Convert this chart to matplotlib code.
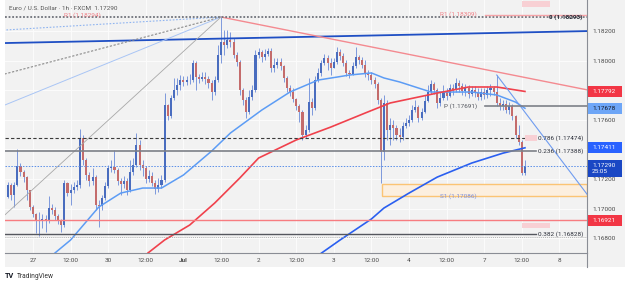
import numpy as np
import matplotlib.pyplot as plt
from matplotlib.patches import Rectangle
from matplotlib.transforms import blended_transform_factory

plt.rcParams['font.family'] = ['Roboto', 'DejaVu Sans']

# EUR/USD 1h bars, hour index 0 = 27 Jun 00:00 (weekend hours skipped)
first_open = 1.17078
closes = [
    1.17159, 1.17092, 1.17159, 1.17288, 1.17247, 1.17213, 1.17126, 1.17011,
    1.16963, 1.16916, 1.16923, 1.16930, 1.16916, 1.17004, 1.16990, 1.16950,
    1.16916, 1.16889, 1.17173, 1.17105, 1.17126, 1.17146, 1.17159, 1.17477,
    1.17328, 1.17227, 1.17186, 1.17213, 1.17024, 1.17017, 1.17072, 1.17153,
    1.17274, 1.17281, 1.17261, 1.17186, 1.17166, 1.17186, 1.17126, 1.17247,
    1.17295, 1.17430, 1.17295, 1.17274, 1.17200, 1.17220, 1.17173, 1.17132,
    1.17159, 1.17193, 1.17700, 1.17626, 1.17748, 1.17802, 1.17835, 1.17869,
    1.17856, 1.17869, 1.17869, 1.17984, 1.17889, 1.17876, 1.17889, 1.17876,
    1.17849, 1.17788, 1.17869, 1.18038, 1.18126, 1.18106, 1.18140, 1.18126,
    1.18038, 1.17991, 1.17802, 1.17734, 1.17653, 1.17754, 1.17802, 1.18038,
    1.18058, 1.18025, 1.18045, 1.18065, 1.17950, 1.17971, 1.17991, 1.17964,
    1.17883, 1.17815, 1.17788, 1.17741, 1.17693, 1.17653, 1.17497, 1.17531,
    1.17720, 1.17680, 1.17869, 1.17917, 1.17984, 1.18018, 1.17984, 1.17950,
    1.17991, 1.18058, 1.18031, 1.17984, 1.17917, 1.17910, 1.17964, 1.18025,
    1.18004, 1.17971, 1.17917, 1.17903, 1.17869, 1.17842, 1.17734, 1.17382,
    1.17714, 1.17531, 1.17565, 1.17545, 1.17497, 1.17484, 1.17558, 1.17579,
    1.17599, 1.17666, 1.17687, 1.17612, 1.17653, 1.17727, 1.17788, 1.17842,
    1.17802, 1.17714, 1.17748, 1.17788, 1.17761, 1.17815, 1.17802, 1.17849,
    1.17829, 1.17795, 1.17815, 1.17775, 1.17802, 1.17781, 1.17754, 1.17788,
    1.17768, 1.17802, 1.17815, 1.17788, 1.17714, 1.17693, 1.17707, 1.17666,
    1.17693, 1.17626, 1.17497, 1.17450, 1.17241, 1.17290,
]
highs = [
    1.17180, 1.17173, 1.17180, 1.17403, 1.17308, 1.17261, 1.17220, 1.17126,
    1.17024, 1.16970, 1.16977, 1.16963, 1.16957, 1.17085, 1.17031, 1.17011,
    1.16963, 1.16930, 1.17193, 1.17180, 1.17166, 1.17180, 1.17193, 1.17538,
    1.17497, 1.17342, 1.17247, 1.17274, 1.17227, 1.17058, 1.17092, 1.17180,
    1.17295, 1.17328, 1.17396, 1.17274, 1.17207, 1.17220, 1.17207, 1.17328,
    1.17342, 1.17511, 1.17464, 1.17328, 1.17288, 1.17261, 1.17247, 1.17193,
    1.17207, 1.17227, 1.17781, 1.17707, 1.17768, 1.17883, 1.17883, 1.17903,
    1.17896, 1.17896, 1.17910, 1.18004, 1.17998, 1.17910, 1.17923, 1.17923,
    1.17896, 1.17869, 1.17896, 1.18106, 1.18295, 1.18207, 1.18207, 1.18194,
    1.18153, 1.18058, 1.18004, 1.17815, 1.17754, 1.17802, 1.17835, 1.18072,
    1.18086, 1.18072, 1.18079, 1.18086, 1.18086, 1.18018, 1.18018, 1.18018,
    1.17971, 1.17896, 1.17835, 1.17815, 1.17748, 1.17707, 1.17666, 1.17565,
    1.17883, 1.17748, 1.17896, 1.17950, 1.18004, 1.18045, 1.18038, 1.18018,
    1.18018, 1.18092, 1.18079, 1.18052, 1.18004, 1.17937, 1.17991, 1.18092,
    1.18038, 1.18025, 1.18004, 1.17937, 1.17923, 1.17889, 1.17856, 1.17748,
    1.17768, 1.17734, 1.17612, 1.17599, 1.17565, 1.17545, 1.17585, 1.17612,
    1.17633, 1.17700, 1.17734, 1.17700, 1.17680, 1.17768, 1.17835, 1.17869,
    1.17856, 1.17815, 1.17788, 1.17835, 1.17815, 1.17842, 1.17842, 1.17883,
    1.17869, 1.17849, 1.17842, 1.17835, 1.17829, 1.17829, 1.17815, 1.17815,
    1.17815, 1.17829, 1.17842, 1.17829, 1.17903, 1.17748, 1.17734, 1.17734,
    1.17720, 1.17707, 1.17633, 1.17565, 1.17464, 1.17328,
]
lows = [
    1.17072, 1.17058, 1.17011, 1.17153, 1.17220, 1.17180, 1.17058, 1.16990,
    1.16943, 1.16835, 1.16815, 1.16869, 1.16842, 1.16903, 1.16963, 1.16923,
    1.16896, 1.16842, 1.16875, 1.17085, 1.17024, 1.17105, 1.17126, 1.17139,
    1.17295, 1.17193, 1.17153, 1.17159, 1.16990, 1.16875, 1.16990, 1.17058,
    1.17139, 1.17247, 1.17241, 1.17159, 1.17092, 1.17139, 1.17092, 1.17112,
    1.17227, 1.17281, 1.17261, 1.17220, 1.17173, 1.17180, 1.17153, 1.17099,
    1.17112, 1.17139, 1.17180, 1.17599, 1.17612, 1.17734, 1.17768, 1.17802,
    1.17829, 1.17835, 1.17842, 1.17856, 1.17802, 1.17849, 1.17862, 1.17842,
    1.17815, 1.17734, 1.17768, 1.17856, 1.17984, 1.18038, 1.18086, 1.18092,
    1.18018, 1.17964, 1.17768, 1.17700, 1.17612, 1.17639, 1.17734, 1.17788,
    1.18018, 1.17991, 1.18004, 1.18031, 1.17923, 1.17923, 1.17950, 1.17937,
    1.17856, 1.17788, 1.17761, 1.17720, 1.17666, 1.17585, 1.17464, 1.17477,
    1.17518, 1.17633, 1.17666, 1.17856, 1.17896, 1.17971, 1.17937, 1.17903,
    1.17950, 1.17977, 1.18004, 1.17964, 1.17896, 1.17883, 1.17903, 1.17950,
    1.17977, 1.17950, 1.17889, 1.17869, 1.17842, 1.17815, 1.17707, 1.17173,
    1.17328, 1.17464, 1.17430, 1.17464, 1.17464, 1.17450, 1.17464, 1.17545,
    1.17558, 1.17585, 1.17653, 1.17585, 1.17599, 1.17646, 1.17720, 1.17775,
    1.17775, 1.17680, 1.17693, 1.17734, 1.17734, 1.17754, 1.17768, 1.17788,
    1.17788, 1.17768, 1.17761, 1.17748, 1.17761, 1.17754, 1.17734, 1.17734,
    1.17741, 1.17748, 1.17761, 1.17768, 1.17693, 1.17666, 1.17666, 1.17646,
    1.17639, 1.17599, 1.17477, 1.17430, 1.17227, 1.17227,
]
hours = np.arange(-8, -8 + len(closes))

# moving averages (hour index, price)
ma_fast_h = [4, 7, 12, 21, 28, 35, 41, 48, 57, 63, 73, 82, 91, 97, 101, 108, 112, 117, 127, 140, 148, 154, 157]
ma_fast = [1.16639, 1.16700, 1.16788, 1.17011, 1.17105, 1.17139, 1.17139, 1.17227, 1.17389, 1.17511,
           1.17666, 1.17788, 1.17869, 1.17889, 1.17903, 1.17917, 1.17883, 1.17856, 1.17788, 1.17788,
           1.17768, 1.17720, 1.17678]
ma_mid_h = [33, 42, 50, 58, 66, 72, 84, 95, 106, 114, 129, 139, 148, 157]
ma_mid = [1.16639, 1.16788, 1.16889, 1.17038, 1.17207, 1.17342, 1.17464, 1.17551, 1.17646, 1.17714,
          1.17781, 1.17822, 1.17822, 1.17792]
ma_slow_h = [88, 98, 108, 112, 120, 129, 140, 150, 157]
ma_slow = [1.16639, 1.16788, 1.16930, 1.17004, 1.17105, 1.17213, 1.17308, 1.17375, 1.17411]

# x tick positions and labels
tick_hours = [0, 12, 24, 36, 48, 60, 72, 84, 96, 108, 120, 132, 144, 156, 168]
tick_labels = ['27', '12:00', '30', '12:00', 'Jul', '12:00', '2', '12:00', '3', '12:00',
               '4', '12:00', '7', '12:00', '8']
price_ticks = [1.168, 1.170, 1.172, 1.174, 1.176, 1.178, 1.180, 1.182]
price_tick_labels = ['1.16800', '1.17000', '1.17200', '', '1.17600', '', '1.18000', '1.18200']

# levels and drawings
fib_0 = 1.18293
fib_236 = 1.17388
fib_382 = 1.16828
fib_786 = 1.17474
r1_now = 1.18309
r1_prev = 1.18294
pivot = 1.17691
s1 = 1.17086
s1_top = 1.17165
red_level = 1.16921
last_price = 1.17290
peak = (60, 1.18295)
fan_ends = [1.18207, 1.17910, 1.17700, 1.16957]

X_LEFT, X_RIGHT = -8.94, 176.8
Y_LOW, Y_HIGH = 1.16700, 1.18410

fig = plt.figure(figsize=(6.25, 2.86), dpi=100)
fig.patch.set_facecolor('white')
fig.add_artist(Rectangle((5 / 625, 19 / 286), 620 / 625, 267 / 286, transform=fig.transFigure,
                         facecolor='#f2f2f2', edgecolor='none', zorder=-1))
ax = fig.add_axes([5 / 625, 33 / 286, 582 / 625, 253 / 286])
ax.set_facecolor('#f2f2f2')
ax.set_xlim(X_LEFT, X_RIGHT)
ax.set_ylim(Y_LOW, Y_HIGH)

ax.set_xticks(tick_hours, tick_labels)
ax.set_yticks(price_ticks, price_tick_labels)
ax.yaxis.tick_right()
ax.tick_params(axis='both', length=0, labelsize=4.6, colors='#4a4a4a')
ax.tick_params(axis='y', pad=4)
ax.tick_params(axis='x', pad=3.5)
for lab in ax.get_xticklabels():
    if lab.get_text() == 'Jul':
        lab.set_fontweight('bold')
ax.grid(True, color='#fbfbfb', lw=0.8, zorder=0)
ax.set_axisbelow(True)
for s in ['top', 'left']:
    ax.spines[s].set_visible(False)
for s in ['right', 'bottom']:
    ax.spines[s].set_color('#8a8d95')
    ax.spines[s].set_linewidth(0.8)
ax.plot([1, 1], [0, -14 / 253], transform=ax.transAxes, clip_on=False, color='#8a8d95', lw=0.8)

# candles
opens = np.array([first_open] + closes[:-1])
c = np.array(closes)
hi = np.maximum(np.array(highs), np.maximum(opens, c))
lo = np.minimum(np.array(lows), np.minimum(opens, c))
up = c >= opens
body_low = np.minimum(opens, c)
body_h = np.maximum(np.abs(c - opens), 0.00003)
ax.vlines(hours, lo, hi, color='#6a8ad8', lw=0.6, zorder=3)
ax.bar(hours[up], body_h[up], bottom=body_low[up], width=0.66, color='#4a6dbf', lw=0, zorder=4)
ax.bar(hours[~up], body_h[~up], bottom=body_low[~up], width=0.66, color='#c46c6c', lw=0, zorder=4)

# S1 zone
ax.add_patch(Rectangle((111.4, s1), X_RIGHT - 111.4, s1_top - s1, facecolor='#fcefdf',
                       edgecolor='#fbc474', lw=1, zorder=2))
ax.text(135.6, s1, 'S1 (1.17086)', fontsize=4.6, color='#7d8fdc', ha='center', va='center', zorder=6)

# moving averages
ax.plot(ma_fast_h, ma_fast, color='#5c9cf5', lw=1.1, zorder=5)
ax.plot(ma_mid_h, ma_mid, color='#f0414c', lw=1.2, zorder=5)
ax.plot(ma_slow_h, ma_slow, color='#2a5ff0', lw=1.2, zorder=5)

# trend lines and fan
ax.plot([-9, 177], [1.18119, 1.18200], color='#1f4fc4', lw=1.3, zorder=5)
ax.plot([peak[0], 177], [peak[1], 1.17802], color='#f48a90', lw=1.0, zorder=5)
ax.plot([148, 177], [1.17903, 1.17092], color='#6f9cf0', lw=0.8, zorder=5)
fan_styles = [('#8fb4f0', (0, (1.5, 1.5)), 0.8), ('#8a8a8a', (0, (2, 1.5)), 0.8),
              ('#a9c5f5', '-', 0.7), ('#a8a8a8', '-', 0.6)]
for end, (col, ls, w) in zip(fan_ends, fan_styles):
    ax.plot([peak[0], -9], [peak[1], end], color=col, ls=ls, lw=w, zorder=5)

# horizontal levels
ax.axhline(fib_0, color='#6f727a', lw=1.3, ls=(0, (1, 1)), zorder=5)
ax.plot([144.3, X_RIGHT], [r1_now, r1_now], color='#f6a4a8', lw=1.0, zorder=5)
ax.plot([144.3, X_RIGHT], [pivot, pivot], color='#7d8088', lw=1.2, zorder=5)
ax.plot([X_LEFT, 160.5], [fib_786, fib_786], color='#3a3a3a', lw=0.8, ls=(0, (3, 2)), zorder=5)
ax.plot([X_LEFT, 160.5], [fib_236, fib_236], color='#7d8088', lw=1.2, zorder=5)
ax.plot([X_LEFT, 160.5], [fib_382, fib_382], color='#55575e', lw=1.0, zorder=5)
ax.axhline(fib_382 - 0.00021, color='#a0a0a0', lw=0.6, ls=(0, (1, 1.5)), zorder=5)
ax.axhline(last_price, color='#5b8fe8', lw=0.7, ls=(0, (1.5, 1.5)), zorder=5)
ax.axhline(red_level, color='#f77c80', lw=1.0, zorder=5)

# blurred pink tags
for hx, p0, p1 in [(156, 1.18363, 1.18403), (156, 1.16869, 1.16903), (157, 1.17457, 1.17497)]:
    w = 9 if hx == 156 else 3.9
    ax.add_patch(Rectangle((hx, p0), w, p1 - p0, facecolor='#f8d0d4', edgecolor='none', zorder=6))

# level labels
lab_kw = dict(fontsize=4.6, va='center', zorder=7)
ax.text(175.5, fib_0, '0 (1.18293)', ha='right', color='#2a2e39', fontweight='bold', **lab_kw)
ax.text(175.5, fib_786, '0.786 (1.17474)', ha='right', color='#2a2e39', **lab_kw)
ax.text(175.5, fib_236, '0.236 (1.17388)', ha='right', color='#2a2e39', **lab_kw)
ax.text(175.5, fib_382, '0.382 (1.16828)', ha='right', color='#2a2e39', **lab_kw)
ax.text(135.6, r1_now + 0.00005, 'R1 (1.18309)', ha='center', color='#f07f86', **lab_kw)
ax.text(15.6, r1_prev + 0.00012, 'R1 (1.18294)', ha='center', color='#f07f86', **lab_kw)
ax.text(136.6, pivot, 'P (1.17691)', ha='center', color='#50535b', **lab_kw)

ax.text(0.0069, 0.968, 'Euro / U.S. Dollar · 1h · FXCM  1.17290', transform=ax.transAxes,
        fontsize=4.6, color='#555555', va='center', ha='left', zorder=7)

# price tags on the right axis
blend = blended_transform_factory(ax.transAxes, ax.transData)


def price_tag(price, lines, face, fg, height=0.00074):
    ax.add_patch(Rectangle((1.002, price - height / 2), 0.058, height, transform=blend,
                           facecolor=face, edgecolor='none', clip_on=False, zorder=8))
    ax.text(1.0085, price, lines, transform=blend, ha='left', va='center', fontsize=4.6,
            color=fg, zorder=9, clip_on=False, linespacing=1.25)


price_tag(1.17792, '1.17792', '#f23645', 'white')
price_tag(1.17678, '1.17678', '#6ea6f7', '#131722')
price_tag(1.17411, '1.17411', '#2962ff', 'white')
price_tag(1.17270, '1.17290\n25:05', '#1a47c4', 'white', height=0.00118)
price_tag(1.16921, '1.16921', '#f23645', 'white')

# footer
fig.text(5 / 625, 1 - 276 / 286, 'TV', fontsize=5.2, fontweight='bold', color='#131722', va='center')
fig.text(17 / 625, 1 - 276 / 286, 'TradingView', fontsize=4.8, color='#333333', va='center')

fig.savefig('out.png', dpi=100, facecolor='white')
